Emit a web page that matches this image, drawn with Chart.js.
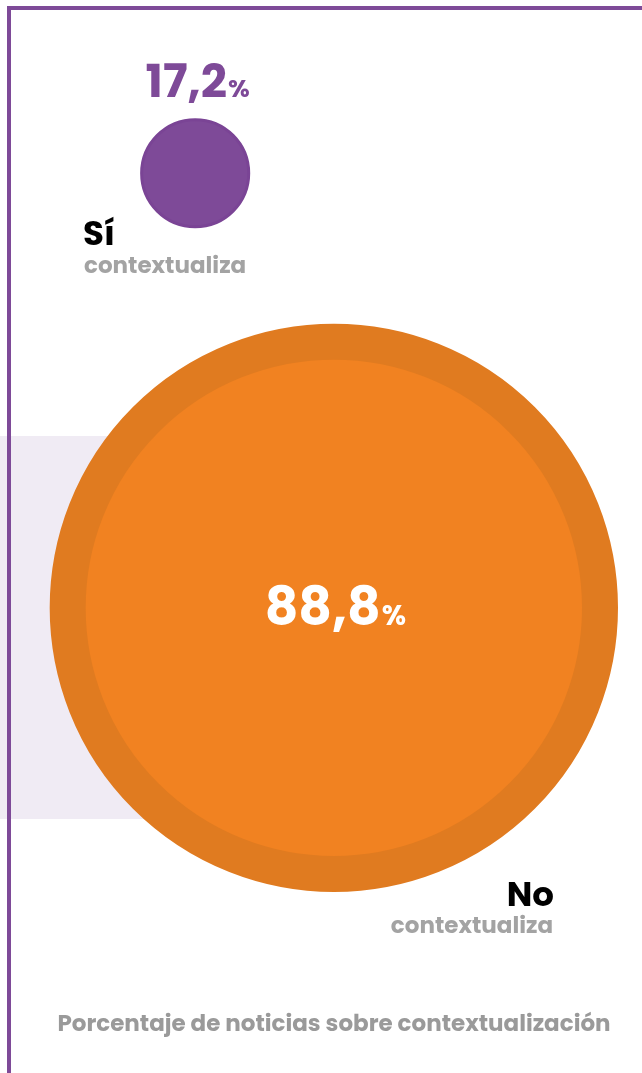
<!DOCTYPE html>
<html lang="es">
<head>
<meta charset="utf-8">
<title>Contextualización</title>
<script src="https://cdn.jsdelivr.net/npm/chart.js@4"></script>
<style>
    html, body { margin: 0; padding: 0; background: #ffffff; }
    #wrap { position: relative; width: 642px; height: 1073px; overflow: hidden; }
    /* decorative frame and band */
    #frame { position: absolute; left: 7px; top: 6px; right: 0; bottom: 0;
        border-top: 4px solid #7e4a98; border-left: 4px solid #7e4a98; }
    #band { position: absolute; left: 0; top: 436px; width: 340px; height: 383px; background: #f0ebf4; }
    #chart { position: absolute; left: 0; top: 0; }
</style>
</head>
<body>
<div id="wrap">
    <div id="band"></div>
    <div id="frame"></div>
    <canvas id="chart" width="642" height="1073"></canvas>
</div>
<script>
// data
const categories = ['Sí', 'No'];
const subLabels = ['contextualiza', 'contextualiza'];
const values = [17.2, 88.8];
const caption = 'Porcentaje de noticias sobre contextualización';

const fontFamily = "Poppins, Inter, 'Noto Sans', sans-serif";

// layout in an abstract 0-100 space (not data)
const layout = [
    { x: 30.4, y: 16.15, fill: '#7e4a98', border: '#7a4495', borderWidth: 3 },
    { x: 52.0, y: 56.65, fill: '#f18221', border: '#e07b20', borderWidth: 36 }
];
const pxPerUnit = 3.2; // outer radius in px per percentage point

const fmt = (v) => v.toFixed(1).replace('.', ',');

// number + small "%" centred on cx
function drawValue(ctx, v, cx, base, big, small) {
    const num = fmt(v);
    ctx.font = '700 ' + big + 'px ' + fontFamily;
    const w1 = ctx.measureText(num).width;
    ctx.font = '700 ' + small + 'px ' + fontFamily;
    const w2 = ctx.measureText('%').width;
    const x0 = cx - (w1 + w2) / 2;
    ctx.textAlign = 'left';
    ctx.font = '700 ' + big + 'px ' + fontFamily;
    ctx.fillText(num, x0, base);
    ctx.font = '700 ' + small + 'px ' + fontFamily;
    ctx.fillText('%', x0 + w1 + 1, base);
}

const labelPlugin = {
    id: 'bubbleLabels',
    afterDatasetsDraw(chart) {
        const ctx = chart.ctx;
        const meta = chart.getDatasetMeta(0);
        ctx.save();
        ctx.textBaseline = 'alphabetic';

        meta.data.forEach((pt, i) => {
            const outer = values[i] * pxPerUnit;
            if (i === 0) {
                ctx.fillStyle = '#7e4a98';
                drawValue(ctx, values[i], pt.x + 2, pt.y - outer - 21, 46, 25);

                // category label, bottom left
                ctx.textAlign = 'left';
                ctx.fillStyle = '#000000';
                ctx.font = '700 34px ' + fontFamily;
                ctx.fillText(categories[i], 83, pt.y + outer + 17);
                ctx.fillStyle = '#a3a3a3';
                ctx.font = '700 23px ' + fontFamily;
                ctx.fillText(subLabels[i], 84, pt.y + outer + 45);
            } else {
                ctx.fillStyle = '#ffffff';
                drawValue(ctx, values[i], pt.x + 1, pt.y + 17, 52, 28);

                // category label, bottom right
                ctx.textAlign = 'right';
                ctx.fillStyle = '#000000';
                ctx.font = '700 34px ' + fontFamily;
                ctx.fillText(categories[i], 554, pt.y + outer + 14);
                ctx.fillStyle = '#a3a3a3';
                ctx.font = '700 23px ' + fontFamily;
                ctx.fillText(subLabels[i], 553, pt.y + outer + 41);
            }
        });

        // caption
        ctx.textAlign = 'center';
        ctx.fillStyle = '#9a9a9a';
        ctx.font = '700 23px ' + fontFamily;
        ctx.fillText(caption, 334, 1031);
        ctx.restore();
    }
};

const ctx = document.getElementById('chart').getContext('2d');

new Chart(ctx, {
    type: 'bubble',
    data: {
        labels: categories,
        datasets: [{
            data: values.map((v, i) => ({ x: layout[i].x, y: layout[i].y, v: v })),
            backgroundColor: layout.map(l => l.fill),
            borderColor: layout.map(l => l.border),
            borderWidth: layout.map(l => l.borderWidth),
            radius: (c) => values[c.dataIndex] * pxPerUnit - layout[c.dataIndex].borderWidth / 2,
            hoverRadius: 0,
            hoverBorderWidth: 0,
            clip: false
        }]
    },
    options: {
        responsive: false,
        animation: false,
        events: [],
        layout: { padding: 0, autoPadding: false },
        scales: {
            x: { type: 'linear', min: 0, max: 100, display: false },
            y: { type: 'linear', min: 0, max: 100, reverse: true, display: false }
        },
        plugins: {
            legend: { display: false },
            tooltip: { enabled: false }
        }
    },
    plugins: [labelPlugin]
});
</script>
</body>
</html>
